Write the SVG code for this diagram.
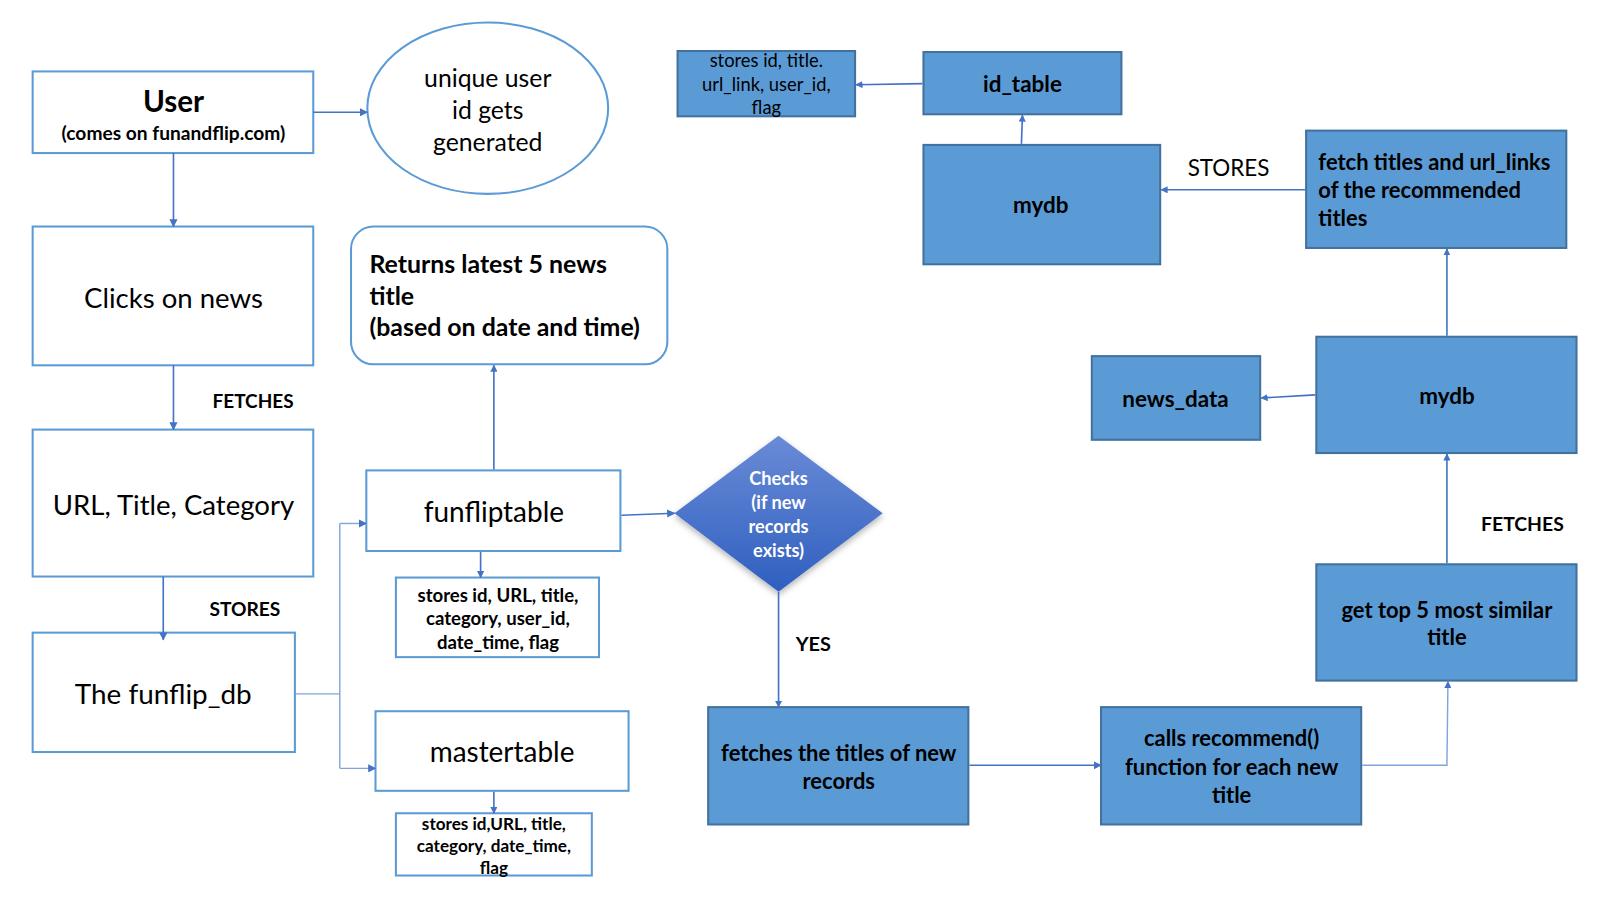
<svg xmlns="http://www.w3.org/2000/svg" width="1600" height="900" viewBox="0 0 1600 900">
<style>
.o{fill:#fff;stroke:#5b9bd5;stroke-width:2}
.f{fill:#5b9bd5;stroke:#41719c;stroke-width:2}
.t{font-family:Lato,"Liberation Sans",sans-serif;fill:#000;text-anchor:middle}
.b{font-weight:bold}
.l{text-anchor:start}
.w{fill:#fff}
.c{fill:none;stroke:#4472c4;stroke-width:1.6}
.c2{fill:none;stroke:#7ea6dc;stroke-width:1.4}
</style>
<defs>
<marker id="a" viewBox="0 0 10 10" refX="9" refY="5" markerWidth="7" markerHeight="7" orient="auto" markerUnits="userSpaceOnUse"><path d="M0,0L10,5L0,10z" fill="#4472c4"/></marker>
<marker id="a2" viewBox="0 0 10 10" refX="9" refY="5" markerWidth="8" markerHeight="8" orient="auto" markerUnits="userSpaceOnUse"><path d="M0,0L10,5L0,10z" fill="#4472c4"/></marker>
<linearGradient id="g" x1="0" y1="0" x2="0" y2="1"><stop offset="0" stop-color="#6a8bd6"/><stop offset="1" stop-color="#2f5fc0"/></linearGradient>
<filter id="sh" x="-20%" y="-20%" width="140%" height="140%"><feDropShadow dx="0" dy="3" stdDeviation="3" flood-color="#000" flood-opacity="0.3"/></filter>
</defs>
<rect width="1600" height="900" fill="#fff"/>
<g transform="scale(1.0204)">

<g id="user">
<rect class="o" x="32" y="70" width="275" height="80"/>
<text class="t b" x="170" y="110" font-size="29">User</text>
<text class="t b" x="170" y="137.5" font-size="18.8">(comes on funandflip.com)</text>
</g>
<g id="unique">
<ellipse class="o" cx="478" cy="106" rx="118" ry="84"/>
<text class="t" x="478" y="85.5" font-size="24.3">unique user</text>
<text class="t" x="478" y="116.5" font-size="24.3">id gets</text>
<text class="t" x="478" y="147.5" font-size="24.3">generated</text>
</g>
<g id="clicks">
<rect class="o" x="32" y="222" width="275" height="136"/>
<text class="t" x="170" y="301.5" font-size="27">Clicks on news</text>
</g>
<g id="url">
<rect class="o" x="32" y="421" width="275" height="144"/>
<text class="t" x="170" y="504.5" font-size="27">URL, Title, Category</text>
</g>
<g id="funflipdb">
<rect class="o" x="32" y="620" width="257" height="117"/>
<text class="t" x="160" y="689.5" font-size="27.3">The funflip_db</text>
</g>
<g id="returns">
<rect class="o" x="344" y="222" width="310" height="135" rx="22"/>
<text class="t b l" x="362" y="267.6" font-size="24.4">Returns latest 5 news</text>
<text class="t b l" x="362" y="298.6" font-size="24.4">title</text>
<text class="t b l" x="362" y="329.6" font-size="24.4">(based on date and time)</text>
</g>
<g id="funfliptable">
<rect class="o" x="359" y="461" width="249" height="79"/>
<text class="t" x="484" y="511.5" font-size="27.4">funfliptable</text>
</g>
<g id="stores1">
<rect class="o" x="388" y="566" width="199" height="78"/>
<text class="t b" x="488" y="589.5" font-size="18.2">stores id, URL, title,</text>
<text class="t b" x="488" y="612.5" font-size="18.2">category, user_id,</text>
<text class="t b" x="488" y="636.5" font-size="18.2">date_time, flag</text>
</g>
<g id="mastertable">
<rect class="o" x="368" y="697" width="248" height="78"/>
<text class="t" x="492" y="746.5" font-size="27.4">mastertable</text>
</g>
<g id="stores2">
<rect class="o" x="388" y="797" width="192" height="61"/>
<text class="t b" x="484" y="813" font-size="16.8">stores id,URL, title,</text>
<text class="t b" x="484" y="835" font-size="16.8">category, date_time,</text>
<text class="t b" x="484" y="857" font-size="16.8">flag</text>
</g>
<g id="checks">
<path d="M763,427L865,503L763,580L661,503z" fill="url(#g)" filter="url(#sh)"/>
<text class="t b w" x="763" y="475" font-size="17.8">Checks</text>
<text class="t b w" x="763" y="499" font-size="17.8">(if new</text>
<text class="t b w" x="763" y="522" font-size="17.8">records</text>
<text class="t b w" x="763" y="546" font-size="17.8">exists)</text>
</g>
<g id="fetchesnew">
<rect class="f" x="694" y="693" width="255" height="115"/>
<text class="t b" x="822" y="745.5" font-size="21.5">fetches the titles of new</text>
<text class="t b" x="822" y="773.5" font-size="21.5">records</text>
</g>
<g id="calls">
<rect class="f" x="1079" y="693" width="255" height="115"/>
<text class="t b" x="1207" y="731.5" font-size="21.5">calls recommend()</text>
<text class="t b" x="1207" y="759.5" font-size="21.5">function for each new</text>
<text class="t b" x="1207" y="786.5" font-size="21.5">title</text>
</g>
<g id="top5">
<rect class="f" x="1290" y="553" width="255" height="114"/>
<text class="t b" x="1418" y="605.5" font-size="21.5">get top 5 most similar</text>
<text class="t b" x="1418" y="632.5" font-size="21.5">title</text>
</g>
<g id="mydb2">
<rect class="f" x="1290" y="330" width="255" height="114"/>
<text class="t b" x="1418" y="395.7" font-size="22">mydb</text>
</g>
<g id="newsdata">
<rect class="f" x="1070" y="349" width="165" height="82"/>
<text class="t b" x="1152" y="398.7" font-size="22">news_data</text>
</g>
<g id="fetchtitles">
<rect class="f" x="1280" y="128" width="255" height="115"/>
<text class="t b l" x="1292" y="166.5" font-size="21.5">fetch titles and url_links</text>
<text class="t b l" x="1292" y="194.5" font-size="21.5">of the recommended</text>
<text class="t b l" x="1292" y="221.5" font-size="21.5">titles</text>
</g>
<g id="mydb1">
<rect class="f" x="905" y="142" width="232" height="117"/>
<text class="t b" x="1020" y="208.7" font-size="22">mydb</text>
</g>
<g id="idtable">
<rect class="f" x="905" y="51" width="194" height="61"/>
<text class="t b" x="1002" y="89.7" font-size="22">id_table</text>
</g>
<g id="stores3">
<rect class="f" x="664" y="50" width="174" height="64"/>
<text class="t" x="751" y="66" font-size="18">stores id, title.</text>
<text class="t" x="751" y="89" font-size="18">url_link, user_id,</text>
<text class="t" x="751" y="112" font-size="18">flag</text>
</g>

<g id="connectors">
<path class="c" d="M307,110H360" marker-end="url(#a2)"/>
<path class="c" d="M170,150V222" marker-end="url(#a2)"/>
<path class="c" d="M170,358V421" marker-end="url(#a2)"/>
<path class="c" d="M160,565V627" marker-end="url(#a2)"/>
<path class="c2" d="M289,680H333M333,513V753"/>
<path class="c2" d="M333,513H359" marker-end="url(#a2)"/>
<path class="c2" d="M333,753H368" marker-end="url(#a2)"/>
<path class="c" d="M484,460V358" marker-end="url(#a)"/>
<path class="c" d="M471,541V566" marker-end="url(#a)"/>
<path class="c" d="M484,776V797" marker-end="url(#a)"/>
<path class="c" d="M609,505L661,503" marker-end="url(#a2)"/>
<path class="c" d="M763,580V693" marker-end="url(#a)"/>
<path class="c" d="M950,750H1079" marker-end="url(#a2)"/>
<path class="c2" d="M1335,750H1418L1419,668" marker-end="url(#a)"/>
<path class="c" d="M1418,552V445" marker-end="url(#a)"/>
<path class="c" d="M1289,387L1236,390" marker-end="url(#a)"/>
<path class="c" d="M1418,329V244" marker-end="url(#a)"/>
<path class="c" d="M1279,186H1138" marker-end="url(#a)"/>
<path class="c" d="M1001,141L1002,113" marker-end="url(#a)"/>
<path class="c" d="M904,82L839,83" marker-end="url(#a)"/>
<text class="t b" x="248" y="400" font-size="18.6">FETCHES</text>
<text class="t b" x="240" y="604" font-size="18.8">STORES</text>
<text class="t b" x="797" y="638" font-size="19.5">YES</text>
<text class="t b" x="1492" y="520" font-size="19">FETCHES</text>
<text class="t" x="1204" y="172.7" font-size="22">STORES</text>
</g>
</g>
</svg>
